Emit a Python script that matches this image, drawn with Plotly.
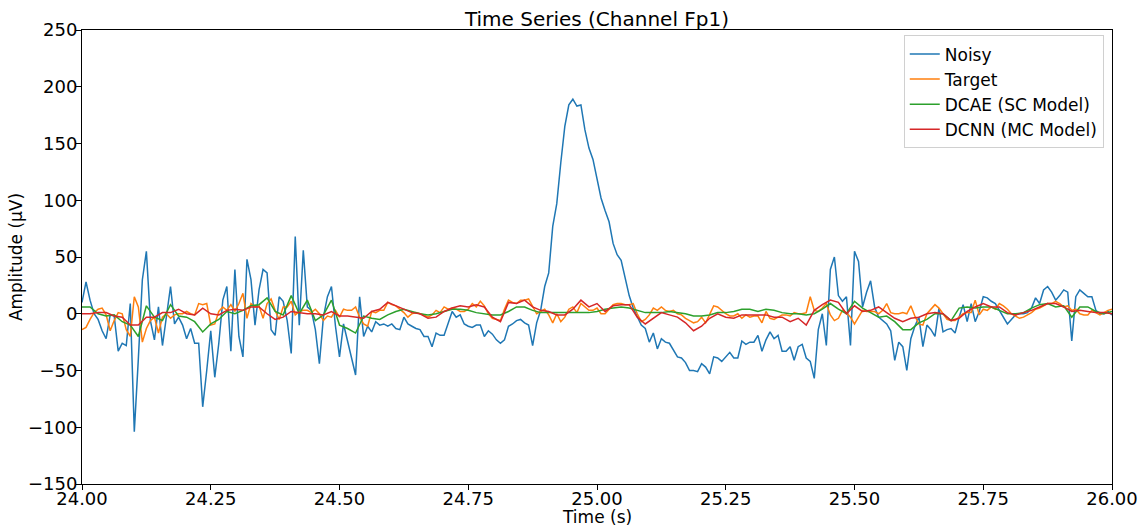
import numpy as np
import plotly.graph_objects as go

# Noisy signal, sampled every 1/128 s from 24.00 s to 26.00 s
noisy = [
    10, 28, 12, 0, -5, -15, -22, -1, -2, -33,
    -26, -28, 9, -104, -40, 30, 55, -6, -23, 6,
    -28, 0, 24, -9, -3, -10, -22, -13, -26, -26,
    -82, -50, -15, -56, -26, 12, 24, -33, 39, -20,
    -38, 48, 30, -10, 21, 39, 36, -14, -19, 15,
    11, -6, -35, 68, -10, 56, 6, 3, -14, -44,
    -3, 15, 24, -11, -38, -9, -23, -39, -54, 15,
    -20, -11, -16, -7, -10, -9, -11, -9, -13, -14,
    -3, -9, -11, -13, -14, -20, -20, -29, -17, -19,
    -19, -9, 2, -3, -1, -9, -11, -12, -10, -10,
    -20, -15, -18, -23, -26, -23, -11, -9, -6, -5,
    -8, -10, -28, -8, 3, 24, 36, 77, 97, 133,
    165, 184, 189, 183, 184, 162, 146, 136, 118, 102,
    91, 81, 62, 52, 47, 31, 16, 5, -3, -10,
    -13, -25, -17, -31, -22, -25, -26, -32, -38, -39,
    -43, -50, -50, -51, -44, -47, -53, -38, -39, -42,
    -38, -34, -39, -39, -24, -27, -25, -25, -19, -33,
    -23, -16, -22, -19, -33, -33, -29, -41, -29, -27,
    -39, -42, -57, -14, 0, -28, 39, 50, 16, 11,
    15, -28, 55, 46, 6, 19, 29, 6, -3, -6,
    -9, -15, -41, -25, -29, -50, -22, -11, -3, -29,
    -10, -14, -20, 5, -16, -14, -13, -17, -3, 8,
    -7, 9, -7, 2, 15, 14, 11, 9, 3, -3,
    -9, -5, -1, 0, 0, 1, 5, 14, 9, 21,
    24, 19, 12, 16, 21, 19, -24, 15, 21, 18,
    15, 15, 3, 0, 0, 2, -1,
]

# Target, sampled every 1/128 s
target = [
    -14, -12, -5, 1, 4, 5, -1, -15, -6, 1,
    0, -14, -20, 15, 6, -25, -13, -6, -3, -17,
    -3, 0, -4, -1, 0, 0, 2, 0, -1, 9,
    8, 9, -10, -9, 2, 6, 3, 8, 2, 9,
    18, -4, 9, 6, 7, -4, 9, 13, 3, -5,
    6, 6, 11, -1, 2, 3, 3, 1, 4, 0,
    -6, -2, -3, 3, -3, 4, 3, 3, 6, -3,
    -9, -11, 2, 1, 3, 3, 10, 8, 7, 4,
    1, -3, 0, 1, 0, -1, -3, -1, 3, 1,
    6, 4, 5, 4, 2, 2, 4, 9, 6, 11,
    7, 0, -4, -5, -6, 4, 12, 10, 9, 12,
    12, 13, 7, 0, 2, 4, -1, -8, 0, -7,
    -3, 4, 6, 1, 9, 6, 3, 3, 5, 0,
    0, 4, 8, 9, 9, 8, 8, 9, 0, -7,
    -5, -1, 5, 3, 6, 3, 2, 3, 0, -1,
    -4, -6, -8, -7, -3, -8, 0, 7, 6, 3,
    0, -2, -2, 0, -4, -1, -3, -2, -2, -8,
    2, -4, -5, -3, -1, -1, -2, 1, 0, 0,
    1, 15, 3, 2, 5, 9, -1, -6, -4, 3,
    1, -3, -9, -3, 3, 2, 2, 2, 0, 3,
    9, 1, 0, 0, 1, 0, 7, -2, -9, -10,
    0, 4, 8, 5, 0, -5, -6, -6, -3, 0,
    1, 1, 12, -1, 4, 3, 6, 4, 9, 7,
    4, 0, -2, -4, -3, -1, 1, 4, 5, 7,
    9, 9, 11, 9, 6, 7, 3, 4, 0, -1,
    -1, 3, 1, -1, 1, 3, 4,
]

# DCAE (SC Model), sampled every 1/64 s
dcae = [
    6, 6, 0, -2, -1, -7, -10, -20, 7, -3,
    -6, 8, -2, -3, -7, -16, -9, -5, 2, 0,
    3, 7, 8, 14, 2, -1, 16, 0, 12, -6,
    -1, 12, -10, -13, -17, -2, -4, -5, -1, 2,
    4, 2, 0, -1, 0, 2, 4, 4, 3, 1,
    0, -1, -1, 2, 6, 6, 3, 1, 1, 1,
    1, 1, 1, 1, 2, 4, 5, 6, 5, 3,
    1, 1, 1, 2, 1, 0, -2, -2, -1, 1,
    1, 2, 4, 4, 2, 4, 3, 1, 0, 0,
    -1, 0, 4, 9, 4, 0, 11, 5, 1, -3,
    -2, -7, -14, -14, -8, -5, 0, 0, -6, 5,
    6, 5, 6, 6, 3, 0, 0, 1, 5, 8,
    9, 6, 7, -3, 6, 6, 2, 0, 2,
]

# DCNN (MC Model), sampled every 1/64 s
dcnn = [
    0, 0, 1, 1, -2, -3, -10, -10, -3, -3,
    1, 1, 4, 0, -1, 5, 0, -1, 3, 4,
    3, 6, 6, 0, -5, -3, 2, 1, 0, 0,
    -1, 2, -2, -2, -3, -4, 2, 4, 10, 7,
    4, 1, 0, -4, -3, 2, 5, 7, 6, 8,
    6, -3, -7, 10, 9, 12, 6, 3, 2, -1,
    -1, 4, 12, 6, 9, 2, 7, 8, 8, -3,
    -9, -4, 1, -1, -3, -8, -15, -11, -4, 0,
    -3, -4, -1, -1, -1, -1, -3, -3, -7, -4,
    -10, 3, 8, 12, 10, 0, 7, 2, 3, 6,
    1, -4, -7, -4, -3, 0, 1, 0, -6, -4,
    2, 6, 9, 6, 6, 1, -1, 1, 3, 6,
    9, 9, 6, 2, 3, 2, 1, 1, 0,
]

t_start = 24.0
fs_fast = 128
fs_slow = 64
t_fast = t_start + np.arange(len(noisy)) / fs_fast
t_slow = t_start + np.arange(len(dcae)) / fs_slow

x_ticks = [24.00, 24.25, 24.50, 24.75, 25.00, 25.25, 25.50, 25.75, 26.00]
y_ticks = [-150, -100, -50, 0, 50, 100, 150, 200, 250]

fig = go.Figure()
fig.add_trace(go.Scatter(x=t_fast, y=noisy, mode="lines", name="Noisy",
                         line=dict(color="#1f77b4", width=1.5)))
fig.add_trace(go.Scatter(x=t_fast, y=target, mode="lines", name="Target",
                         line=dict(color="#ff7f0e", width=1.5)))
fig.add_trace(go.Scatter(x=t_slow, y=dcae, mode="lines", name="DCAE (SC Model)",
                         line=dict(color="#2ca02c", width=1.5)))
fig.add_trace(go.Scatter(x=t_slow, y=dcnn, mode="lines", name="DCNN (MC Model)",
                         line=dict(color="#d62728", width=1.5)))

fig.update_layout(
    width=1140, height=528,
    margin=dict(l=82, r=28, t=30, b=44),
    plot_bgcolor="white", paper_bgcolor="white",
    font=dict(family="DejaVu Sans", size=17, color="black"),
    title=dict(text="Time Series (Channel Fp1)", x=0.5, xref="paper", xanchor="center",
               y=1 - 19 / 528, yref="container", yanchor="middle",
               font=dict(size=20, color="black")),
    showlegend=True,
    legend=dict(x=0.992, y=0.988, xanchor="right", yanchor="top",
                bgcolor="rgba(255,255,255,0.85)", bordercolor="#d0d0d0", borderwidth=1,
                font=dict(size=17), tracegroupgap=0),
    annotations=[dict(text="Time (s)", x=0.5, xref="paper", xanchor="center",
                      y=1 - 517 / 528, yref="paper" if False else "container" if False else "paper",
                      yanchor="middle", showarrow=False, font=dict(size=17, color="black"))],
)
# place the x-axis title just below the tick labels (paper coords: plot spans 30..484 px)
fig.layout.annotations[0].y = -(517 - 484) / 454
fig.update_xaxes(range=[24, 26], tickvals=x_ticks,
                 ticktext=[f"{v:.2f}" for v in x_ticks],
                 ticks="outside", ticklen=5, tickcolor="black", automargin=False,
                 tickfont=dict(size=18), ticklabelstandoff=-7,
                 showline=True, linecolor="black", linewidth=1, mirror=True,
                 showgrid=False, zeroline=False)
fig.update_yaxes(range=[-150, 250], tickvals=y_ticks,
                 ticks="outside", ticklen=5, tickcolor="black", automargin=False,
                 tickfont=dict(size=18), ticklabelstandoff=-5,
                 showline=True, linecolor="black", linewidth=1, mirror=True,
                 showgrid=False, zeroline=False,
                 title=dict(text="Amplitude (µV)", standoff=0, font=dict(size=17)))

fig.write_html("out.html")
